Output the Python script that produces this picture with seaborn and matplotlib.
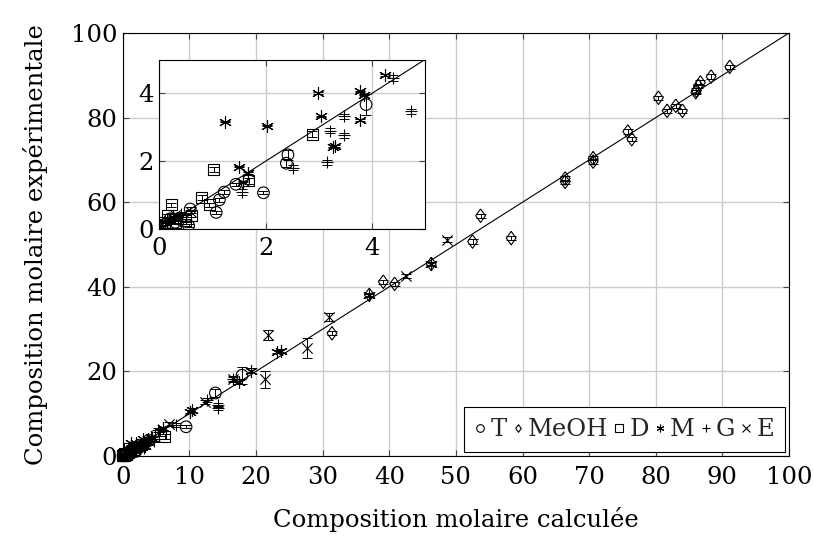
import numpy as np
import pandas as pd
import matplotlib
matplotlib.use("Agg")
import matplotlib.pyplot as plt
from matplotlib.lines import Line2D
import seaborn as sns

# Mole fractions (%) : calculated (x), experimental (y) and experimental uncertainty
x_T = [0.05, 0.12, 0.20, 0.30, 0.55, 0.58, 1.07, 1.13, 1.22, 1.44, 1.96, 2.39, 2.42, 3.89, 9.5, 13.9, 17.9]
y_T = [0.05, 0.15, 0.30, 0.20, 0.10, 0.59, 0.49, 0.86, 1.09, 1.32, 1.07, 1.94, 2.19, 3.67, 6.9, 14.9, 19.1]
e_T = [0.03, 0.03, 0.03, 0.03, 0.05, 0.05, 0.05, 0.05, 0.05, 0.05, 0.05, 0.12, 0.15, 0.30, 0.4, 1.0, 2.0]

x_MeOH = [31.4, 37.0, 39.1, 40.8, 46.3, 52.5, 53.7, 58.3, 66.4, 66.4, 70.6, 70.6, 75.8, 76.4,
          80.4, 81.7, 83.0, 84.0, 86.0, 86.1, 86.4, 86.7, 88.3, 91.1]
y_MeOH = [29.0, 38.1, 41.2, 40.7, 45.4, 50.7, 56.8, 51.5, 65.6, 64.8, 70.4, 69.6, 76.7, 74.9,
          84.7, 81.6, 82.8, 81.6, 86.0, 86.4, 87.5, 88.3, 89.7, 92.0]
e_MeOH = [0.5] * len(x_MeOH)

x_D = [0.00, 0.05, 0.10, 0.15, 0.22, 0.25, 0.30, 0.40, 0.50, 0.60, 0.80, 0.94, 1.02, 1.68, 2.88, 5.6, 6.3]
y_D = [0.10, 0.05, 0.20, 0.40, 0.71, 0.30, 0.20, 0.30, 0.25, 0.41, 0.93, 0.71, 1.75, 1.42, 2.80, 5.2, 4.6]
e_D = [0.03, 0.03, 0.03, 0.05, 0.05, 0.05, 0.05, 0.05, 0.05, 0.05, 0.07, 0.07, 0.08, 0.08, 0.10, 0.5, 0.5]

x_M = [0.10, 0.25, 0.35, 1.24, 1.49, 1.57, 1.66, 2.03, 2.98, 3.04, 3.26, 3.30, 3.78, 3.78, 3.86, 4.24,
       6.0, 10.1, 10.4, 17.4, 19.3, 23.1, 23.7, 37.0, 46.3]
y_M = [0.20, 0.35, 0.30, 3.17, 1.84, 1.40, 1.65, 3.05, 4.01, 3.32, 2.41, 2.45, 4.06, 3.22, 3.96, 4.54,
       6.5, 10.5, 10.9, 17.6, 20.2, 24.7, 24.8, 38.0, 45.5]
e_M = [0.02] * 16 + [0.3, 0.4, 0.4, 0.5, 0.5, 0.4, 0.4, 0.4, 0.4]

x_G = [0.20, 0.40, 1.56, 2.52, 3.15, 3.22, 3.47, 3.47, 4.39, 4.73, 5.3, 8.0, 12.6, 14.3, 14.3, 16.6]
y_G = [0.25, 0.45, 1.09, 1.81, 1.97, 2.90, 3.32, 2.76, 4.46, 3.47, 6.1, 7.3, 13.2, 12.1, 11.3, 18.3]
e_G = [0.05, 0.05, 0.08, 0.08, 0.08, 0.08, 0.08, 0.08, 0.08, 0.08, 0.4, 0.4, 0.5, 0.5, 0.5, 0.5]

x_E = [0.30, 0.60, 7.0, 12.3, 16.6, 21.4, 21.8, 27.6, 30.9, 42.5, 48.6]
y_E = [0.40, 0.50, 7.6, 12.8, 18.1, 18.1, 28.6, 25.5, 32.8, 42.6, 51.1]
e_E = [0.03, 0.03, 0.4, 0.5, 0.5, 2.0, 1.2, 2.4, 1.0, 0.5, 0.6]

species = ["T", "MeOH", "D", "M", "G", "E"]
xs = [x_T, x_MeOH, x_D, x_M, x_G, x_E]
ys = [y_T, y_MeOH, y_D, y_M, y_G, y_E]
es = [e_T, e_MeOH, e_D, e_M, e_G, e_E]

df = pd.concat(
    [pd.DataFrame({"x": x, "y": y, "err": e, "species": s})
     for s, x, y, e in zip(species, xs, ys, es)],
    ignore_index=True,
)

diamond = [(0, 1), (0.72, 0), (0, -1), (-0.72, 0), (0, 1)]
asterisk = (6, 2, 0)
markers = {"T": "o", "MeOH": diamond, "D": "s", "M": asterisk, "G": "+", "E": "x"}
sizes = {"T": 70, "MeOH": 95, "D": 62, "M": 75, "G": 75, "E": 55}
filled = {"T": True, "MeOH": True, "D": True, "M": False, "G": False, "E": False}

FS = 17.5

sns.set_theme(style="whitegrid")
plt.rcParams["font.family"] = ["DejaVu Serif"]
plt.rcParams.update({
    "font.size": FS,
    "axes.edgecolor": "black",
    "axes.linewidth": 0.8,
    "axes.labelcolor": "black",
    "xtick.color": "#444444",
    "ytick.color": "#444444",
    "xtick.labelcolor": "black",
    "ytick.labelcolor": "black",
    "xtick.labelsize": FS,
    "ytick.labelsize": FS,
    "axes.labelsize": FS,
    "grid.color": "#cccccc",
    "grid.linewidth": 1.0,
})


def draw(a, data, clip=True, pad=4):
    a.axline((0, 0), slope=1, color="black", lw=0.8, zorder=2)
    for s in species:
        sub = data[data["species"] == s]
        if sub.empty:
            continue
        a.errorbar(sub["x"], sub["y"], yerr=sub["err"], fmt="none", ecolor="black",
                   elinewidth=0.7, capsize=3.5, capthick=0.7, zorder=3, clip_on=clip)
        kw = dict(facecolor="none", edgecolor="black") if filled[s] else dict(color="black")
        sns.scatterplot(data=sub, x="x", y="y", marker=markers[s], s=sizes[s],
                        linewidth=0.8, ax=a, legend=False, zorder=4, clip_on=clip, **kw)
    a.set_xlabel("")
    a.set_ylabel("")
    a.grid(True, zorder=0)
    a.set_axisbelow(True)
    a.tick_params(direction="in", length=4.5, width=0.8, top=True, right=True,
                  bottom=True, left=True, pad=pad)


fig = plt.figure(figsize=(8.13, 5.39), dpi=100)
ax = fig.add_axes([0.151, 0.154, 0.8195, 0.7848])
draw(ax, df, clip=False, pad=4)
ax.tick_params(axis="x", pad=7)
ax.set_xlim(0, 100)
ax.set_ylim(0, 100)
ax.set_xticks(np.arange(0, 101, 10))
ax.set_yticks(np.arange(0, 101, 20))
ax.set_xlabel("Composition molaire calculée", labelpad=13)
ax.set_ylabel("Composition molaire expérimentale", labelpad=16)

handles = [
    Line2D([], [], linestyle="none", marker=markers[s], markersize=5.5,
           markerfacecolor="none", markeredgecolor="black", color="black",
           markeredgewidth=0.8)
    for s in species
]
ax.legend(handles, species, loc="lower right", ncol=6, frameon=True, fancybox=False,
          edgecolor="black", framealpha=1, handlelength=0.45, handletextpad=0.2,
          columnspacing=0.22, borderpad=0.45, borderaxespad=0.15, fontsize=FS)
ax.get_legend().get_frame().set_linewidth(0.8)

ins = fig.add_axes([0.196, 0.5751, 0.3268, 0.3145])
ins.set_facecolor("white")
draw(ins, df[(df["x"] <= 5.2) & (df["y"] <= 5.2)], clip=True, pad=4)
ins.tick_params(axis="x", pad=6)
ins.set_xlim(0, 5)
ins.set_ylim(0, 5)
ins.set_xticks([0, 2, 4])
ins.set_yticks([0, 2, 4])
ins.set_zorder(5)

fig.savefig("out.png", dpi=100)
